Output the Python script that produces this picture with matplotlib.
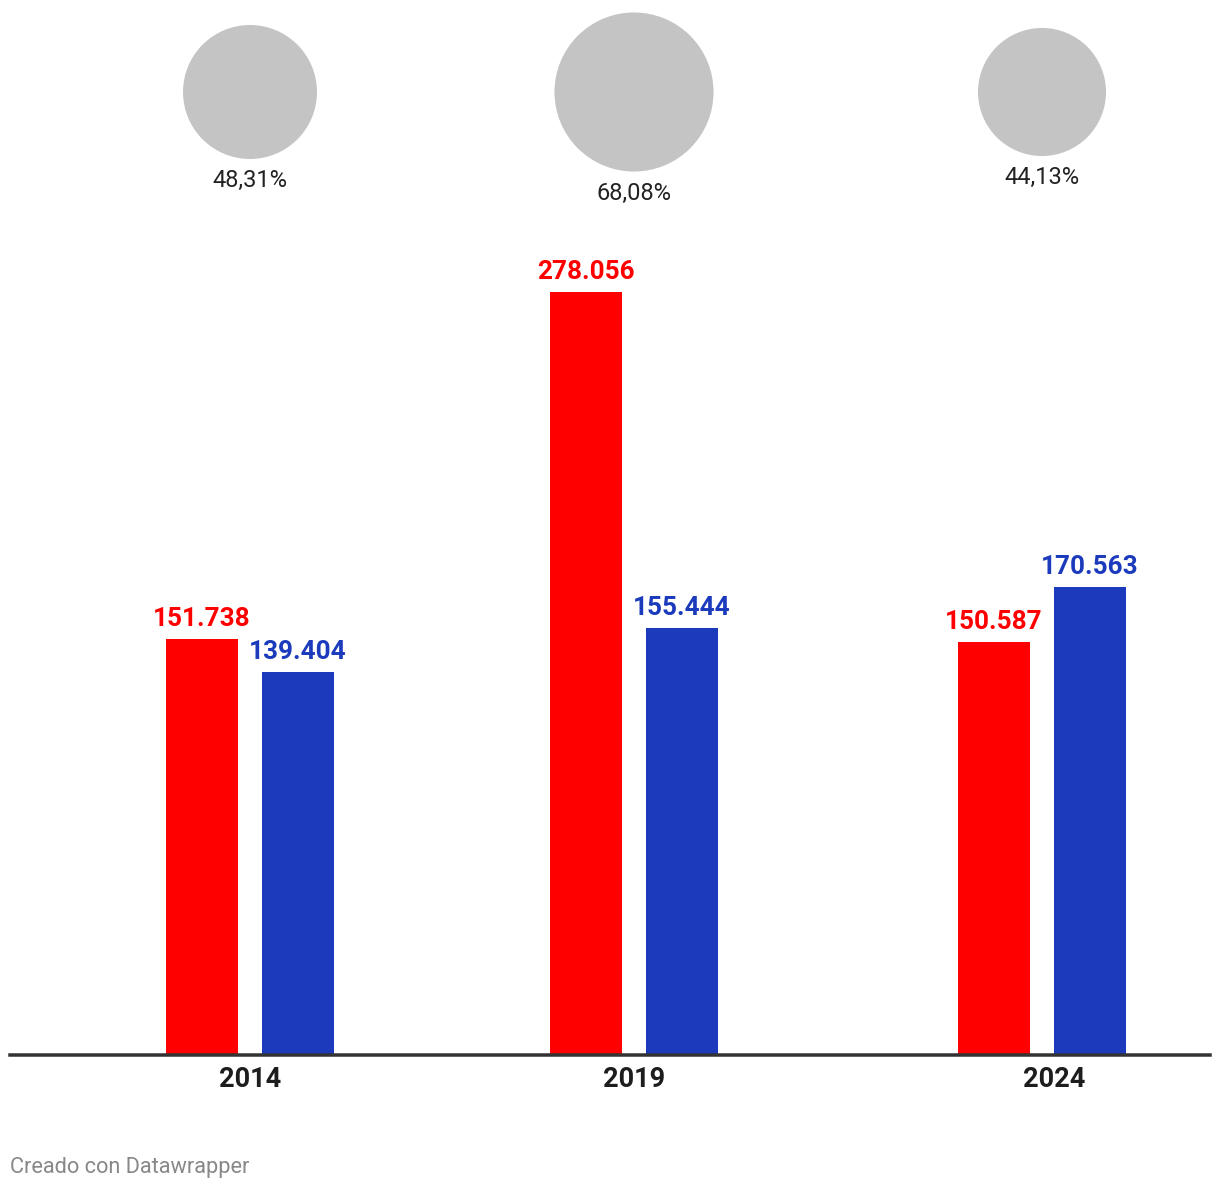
import matplotlib
matplotlib.use("Agg")
import matplotlib.pyplot as plt
import numpy as np

plt.rcParams['font.family'] = ['Roboto', 'DejaVu Sans']

# ---- data ----
years = ["2014", "2019", "2024"]
red_values = [151738, 278056, 150587]
blue_values = [139404, 155444, 170563]
red_labels = ["151.738", "278.056", "150.587"]
blue_labels = ["139.404", "155.444", "170.563"]
pct_values = [48.31, 68.08, 44.13]
pct_labels = ["48,31%", "68,08%", "44,13%"]

# ---- layout (pixels) ----
W, H, DPI = 1220, 1188, 100
group_x = [250, 634, 1042]
year_label_x = [250, 634, 1054]
bar_w = 72
bar_off = 48
baseline_px = 1055          # from top
px_per_unit = 0.002744
RED = "#ff0000"
BLUE = "#1b3bbc"
CIRCLE = "#c4c4c4"

fig = plt.figure(figsize=(W / DPI, H / DPI), dpi=DPI)
fig.patch.set_facecolor("white")

def px2pt(p):
    return p * 72.0 / DPI

# bar axes
ymax = 300000
ax_h_px = ymax * px_per_unit
ax = fig.add_axes([10 / W, (H - baseline_px) / H, 1200 / W, ax_h_px / H])
ax.set_xlim(10, 1210)
ax.set_ylim(0, ymax)
gx = np.array(group_x)
ax.bar(gx - bar_off, red_values, width=bar_w, color=RED, zorder=2)
ax.bar(gx + bar_off, blue_values, width=bar_w, color=BLUE, zorder=2)
for s in ["top", "left", "right"]:
    ax.spines[s].set_visible(False)
ax.spines["bottom"].set_color("#333333")
ax.spines["bottom"].set_linewidth(px2pt(3.5))
ax.spines["bottom"].set_zorder(3)
ax.set_yticks([])
ax.set_xticks([])
ax.patch.set_alpha(0)

for x, v, lab in zip(gx - bar_off, red_values, red_labels):
    ax.annotate(lab, (x, v), xytext=(0, px2pt(13)), textcoords="offset points",
                ha="center", va="baseline", color=RED, fontsize=18.8, fontweight="bold")
for x, v, lab in zip(gx + bar_off, blue_values, blue_labels):
    ax.annotate(lab, (x, v), xytext=(0, px2pt(13)), textcoords="offset points",
                ha="center", va="baseline", color=BLUE, fontsize=18.8, fontweight="bold")
for x, lab in zip(year_label_x, years):
    ax.annotate(lab, (x, 0), xytext=(0, -px2pt(32)), textcoords="offset points",
                ha="center", va="baseline", color="#1d1d1d", fontsize=19.5, fontweight="bold")

# circle axes (pixel coordinates)
cax = fig.add_axes([0, 0, 1, 1], zorder=-1)
cax.set_xlim(0, W)
cax.set_ylim(H, 0)
cax.axis("off")
r_ref_px = 67.0
s_scale = (px2pt(2 * r_ref_px)) ** 2 / pct_values[0]
sizes = np.array(pct_values) * s_scale
cax.scatter(group_x, [92] * 3, s=sizes, color=CIRCLE, edgecolors="none")
for x, s, lab in zip(group_x, sizes, pct_labels):
    r_pt = np.sqrt(s) / 2
    cax.annotate(lab, (x, 92), xytext=(0, -(r_pt + px2pt(28))), textcoords="offset points",
                 ha="center", va="baseline", color="#222222", fontsize=17)

fig.text(10 / W, 1 - 1173 / H, "Creado con Datawrapper", ha="left", va="baseline",
         color="#888888", fontsize=15.7)

fig.savefig("out.png", dpi=DPI, facecolor="white")
